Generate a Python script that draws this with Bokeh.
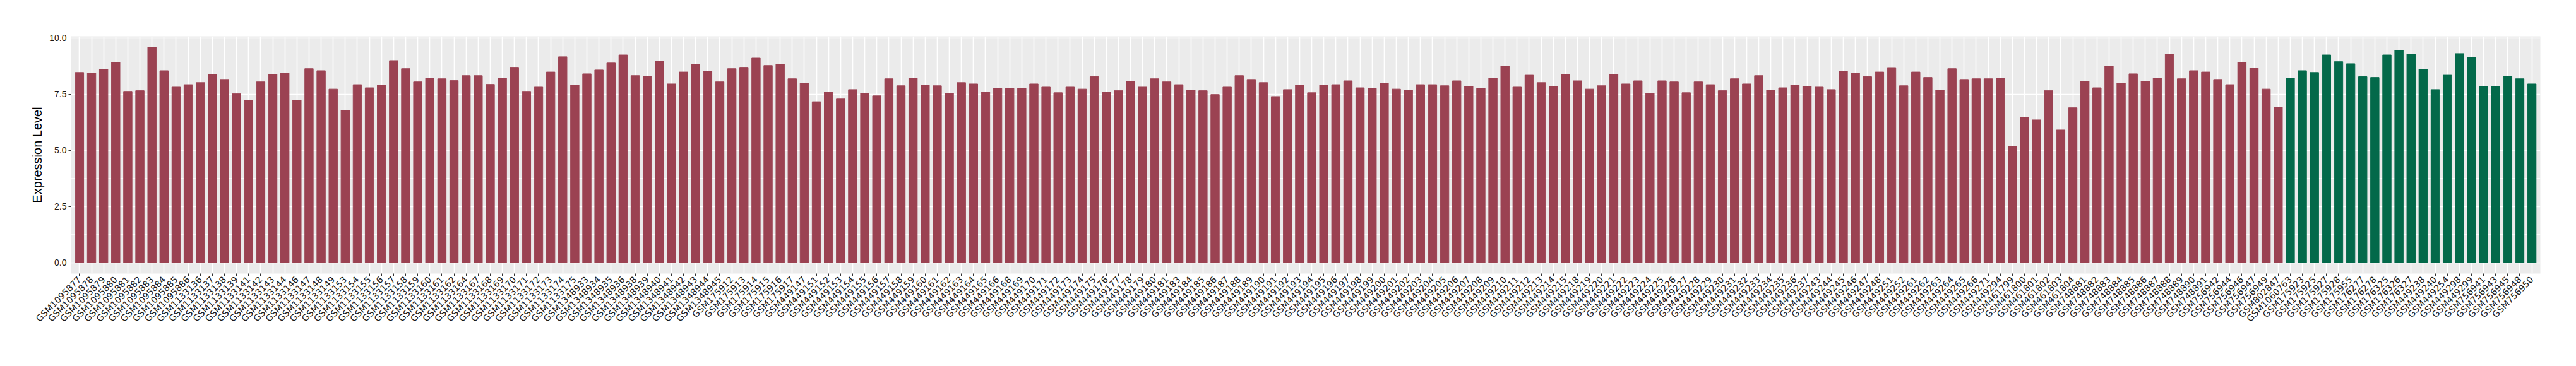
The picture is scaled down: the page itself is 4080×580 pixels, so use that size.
import math
from bokeh.plotting import figure
from bokeh.models import FactorRange, Range1d, ColumnDataSource, FixedTicker, PrintfTickFormatter
from bokeh.embed import file_html
from bokeh.resources import INLINE

# ---------------- data ----------------
red_samples = [
    "GSM1095877", "GSM1095878", "GSM1095879", "GSM1095880", "GSM1095881", "GSM1095882",
    "GSM1095883", "GSM1095884", "GSM1095885", "GSM1095886",
    "GSM1133136", "GSM1133137", "GSM1133138", "GSM1133139", "GSM1133141", "GSM1133142",
    "GSM1133143", "GSM1133144", "GSM1133146", "GSM1133147", "GSM1133148", "GSM1133149",
    "GSM1133153", "GSM1133154", "GSM1133155", "GSM1133156", "GSM1133157", "GSM1133158",
    "GSM1133159", "GSM1133160", "GSM1133161", "GSM1133162", "GSM1133164", "GSM1133167",
    "GSM1133168", "GSM1133169", "GSM1133170", "GSM1133171", "GSM1133172", "GSM1133173",
    "GSM1133174", "GSM1133175",
    "GSM1348933", "GSM1348934", "GSM1348935", "GSM1348936", "GSM1348938", "GSM1348939",
    "GSM1348940", "GSM1348941", "GSM1348942", "GSM1348943", "GSM1348944", "GSM1348945",
    "GSM175912", "GSM175913", "GSM175914", "GSM175915", "GSM175916", "GSM175917",
    "GSM449147", "GSM449151", "GSM449152", "GSM449153", "GSM449154", "GSM449155",
    "GSM449156", "GSM449157", "GSM449158", "GSM449159", "GSM449160", "GSM449161",
    "GSM449162", "GSM449163", "GSM449164", "GSM449165", "GSM449166", "GSM449168",
    "GSM449169", "GSM449170", "GSM449171", "GSM449172", "GSM449173", "GSM449174",
    "GSM449175", "GSM449176", "GSM449177", "GSM449178", "GSM449179", "GSM449180",
    "GSM449181", "GSM449183", "GSM449184", "GSM449185", "GSM449186", "GSM449187",
    "GSM449188", "GSM449189", "GSM449190", "GSM449191", "GSM449192", "GSM449193",
    "GSM449194", "GSM449195", "GSM449196", "GSM449197", "GSM449198", "GSM449199",
    "GSM449200", "GSM449201", "GSM449202", "GSM449203", "GSM449204", "GSM449205",
    "GSM449206", "GSM449207", "GSM449208", "GSM449209", "GSM449210", "GSM449211",
    "GSM449212", "GSM449213", "GSM449214", "GSM449215", "GSM449218", "GSM449219",
    "GSM449220", "GSM449221", "GSM449222", "GSM449223", "GSM449224", "GSM449225",
    "GSM449226", "GSM449227", "GSM449228", "GSM449229", "GSM449230", "GSM449231",
    "GSM449232", "GSM449233", "GSM449234", "GSM449235", "GSM449236", "GSM449237",
    "GSM449243", "GSM449244", "GSM449245", "GSM449246", "GSM449247", "GSM449248",
    "GSM449251", "GSM449252", "GSM449261", "GSM449262", "GSM449263", "GSM449264",
    "GSM449265", "GSM449266", "GSM449271", "GSM449294",
    "GSM461799", "GSM461800", "GSM461801", "GSM461802", "GSM461803", "GSM461804",
    "GSM748881", "GSM748882", "GSM748883", "GSM748884", "GSM748885", "GSM748886",
    "GSM748887", "GSM748888", "GSM748889", "GSM748890", "GSM748891",
    "GSM756942", "GSM756944", "GSM756946", "GSM756947", "GSM756949",
    "GSM802847",
]

red_values = [
    8.47, 8.44, 8.61, 8.92, 7.63, 7.66, 9.60, 8.55, 7.82, 7.93,
    8.02, 8.38, 8.16, 7.52, 7.23, 8.05, 8.38, 8.44, 7.23, 8.64,
    8.55, 7.73, 6.78, 7.93, 7.79, 7.91, 9.00, 8.64, 8.05, 8.22,
    8.19, 8.11, 8.33, 8.33, 7.94, 8.22, 8.70, 7.63, 7.82, 8.49,
    9.17, 7.91, 8.41, 8.58, 8.89, 9.25, 8.33, 8.30, 8.98, 7.96,
    8.49, 8.84, 8.52, 8.05, 8.64, 8.70, 9.11, 8.78, 8.84, 8.19,
    7.99, 7.17, 7.60, 7.29, 7.71, 7.54, 7.43, 8.19, 7.88, 8.22,
    7.91, 7.88, 7.54, 8.02, 7.96, 7.60, 7.76, 7.76, 7.76, 7.96,
    7.82, 7.57, 7.82, 7.73, 8.28, 7.60, 7.66, 8.08, 7.82, 8.19,
    8.05, 7.93, 7.68, 7.66, 7.49, 7.82, 8.33, 8.16, 8.02, 7.40,
    7.71, 7.91, 7.57, 7.91, 7.93, 8.10, 7.79, 7.76, 7.99, 7.73,
    7.68, 7.93, 7.93, 7.88, 8.10, 7.85, 7.76, 8.22, 8.75, 7.82,
    8.35, 8.02, 7.85, 8.38, 8.10, 7.73, 7.88, 8.38, 7.96, 8.10,
    7.54, 8.10, 8.05, 7.57, 8.05, 7.93, 7.66, 8.19, 7.96, 8.33,
    7.68, 7.79, 7.91, 7.85, 7.82, 7.71, 8.52, 8.44, 8.28, 8.49,
    8.69, 7.88, 8.49, 8.25, 7.68, 8.64, 8.16, 8.19, 8.19, 8.22,
    5.18, 6.48, 6.36, 7.66, 5.91, 6.90,
    8.08, 7.79, 8.75, 7.99, 8.41, 8.08, 8.22, 9.28, 8.19, 8.55, 8.49,
    8.16, 7.93, 8.92, 8.66, 7.73,
    6.93,
]

green_samples = [
    "GSM1060763", "GSM175923", "GSM175925", "GSM175927", "GSM175928", "GSM175955",
    "GSM176277", "GSM176278", "GSM176325", "GSM176326", "GSM176327",
    "GSM449238", "GSM449240", "GSM449254", "GSM449298", "GSM449299",
    "GSM756941", "GSM756943", "GSM756945", "GSM756948", "GSM756950",
]

green_values = [
    8.22, 8.55, 8.47, 9.25, 8.95, 8.86, 8.28, 8.25, 9.25, 9.45, 9.28,
    8.61, 7.71, 8.35, 9.31, 9.14, 7.85, 7.85, 8.30, 8.19, 7.96,
]

# ---------------- styling ----------------
RED = "#9B4252"
GREEN = "#03694A"

samples = red_samples + green_samples
values = red_values + green_values
colors = [RED] * len(red_samples) + [GREEN] * len(green_samples)

src = ColumnDataSource(dict(sample=samples, value=values, color=colors))

ymax = max(values)
p = figure(
    width=4080, height=580,
    x_range=FactorRange(*samples, range_padding=0.2, range_padding_units="absolute"),
    y_range=Range1d(-0.05 * ymax, 1.05 * ymax),
    output_backend="svg", toolbar_location=None,
    min_border_left=112, min_border_right=57, min_border_top=57, min_border_bottom=147,
)

p.vbar(x="sample", top="value", bottom=0, width=0.7, color="color", source=src)

p.background_fill_color = "#EBEBEB"
p.border_fill_color = "white"
p.outline_line_color = None

p.ygrid.grid_line_color = "white"
p.ygrid.grid_line_width = 1.6
p.ygrid.minor_grid_line_color = "white"
p.ygrid.minor_grid_line_width = 0.8
p.xgrid.grid_line_color = "white"
p.xgrid.grid_line_width = 1.6

p.yaxis.ticker = FixedTicker(ticks=[0, 2.5, 5, 7.5, 10], minor_ticks=[1.25, 3.75, 6.25, 8.75])
p.yaxis.formatter = PrintfTickFormatter(format="%.1f")

for ax in (p.xaxis, p.yaxis):
    ax.axis_line_color = None
    ax.major_tick_line_color = "#333333"
    ax.major_tick_line_width = 1
    ax.major_tick_out = 4
    ax.major_tick_in = 0
    ax.minor_tick_line_color = None
    ax.major_label_text_color = "#1A1A1A"

p.yaxis.major_label_text_font = "Liberation Sans"
p.yaxis.major_label_text_font_size = "14px"
p.yaxis.major_label_standoff = 3
p.yaxis.axis_label = "Expression Level"
p.yaxis.axis_label_text_font = "Liberation Sans"
p.yaxis.axis_label_text_font_size = "20px"
p.yaxis.axis_label_text_font_style = "normal"
p.yaxis.axis_label_text_color = "black"
p.yaxis.axis_label_standoff = 5

p.xaxis.major_label_orientation = math.pi / 4
p.xaxis.major_label_text_font = "DejaVu Sans"
p.xaxis.major_label_text_font_size = "14px"
p.xaxis.major_label_standoff = 3

open("out.html", "w").write(file_html(p, INLINE))
